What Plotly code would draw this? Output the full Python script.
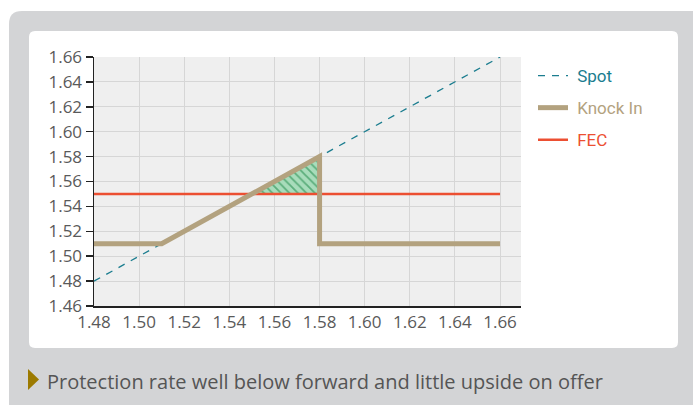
import plotly.graph_objects as go

# ---- data ----
spot_x = [1.48, 1.66]
spot_y = [1.48, 1.66]
knock_x = [1.48, 1.51, 1.58, 1.58, 1.66]
knock_y = [1.51, 1.51, 1.58, 1.51, 1.51]
fec_x = [1.48, 1.66]
fec_y = [1.55, 1.55]
gain_x = [1.55, 1.58, 1.58, 1.55]
gain_y = [1.55, 1.58, 1.55, 1.55]
tick_vals = [1.48, 1.50, 1.52, 1.54, 1.56, 1.58, 1.60, 1.62, 1.64, 1.66]
tick_text = ["1.48", "1.50", "1.52", "1.54", "1.56", "1.58", "1.60", "1.62", "1.64", "1.66"]
y_tick_vals = [1.46, 1.48, 1.50, 1.52, 1.54, 1.56, 1.58, 1.60, 1.62, 1.64, 1.66]
y_tick_text = ["1.46", "1.48", "1.50", "1.52", "1.54", "1.56", "1.58", "1.60", "1.62", "1.64", "1.66"]
caption = "Protection rate well below forward and little upside on offer"

SPOT_C, KNOCK_C, FEC_C = "#1b7d8f", "#b3a27f", "#ec4f32"

W, H = 693, 405
L, R, T, B = 94, 521, 57, 306  # plot area in px


def X(px):
    return (px - L) / (R - L)


def Y(py):
    return (B - py) / (B - T)


def rrect(x0, y0, x1, y1, r):
    pts = [
        ("M", [(x0 + r, y0)]),
        ("L", [(x1 - r, y0)]),
        ("Q", [(x1, y0), (x1, y0 + r)]),
        ("L", [(x1, y1 - r)]),
        ("Q", [(x1, y1), (x1 - r, y1)]),
        ("L", [(x0 + r, y1)]),
        ("Q", [(x0, y1), (x0, y1 - r)]),
        ("L", [(x0, y0 + r)]),
        ("Q", [(x0, y0), (x0 + r, y0)]),
    ]
    s = ""
    for cmd, ps in pts:
        s += cmd + " ".join(f"{X(a):.5f},{Y(b):.5f}" for a, b in ps) + " "
    return s + "Z"


fig = go.Figure()

fig.add_trace(go.Scatter(
    x=gain_x, y=gain_y, mode="lines", fill="toself",
    line=dict(width=0, color="rgba(0,0,0,0)"),
    fillcolor="#a8dcbb",
    fillpattern=dict(shape="\\", fgcolor="#0f7f3c", bgcolor="#a8dcbb", size=6, solidity=0.3),
    showlegend=False, hoverinfo="skip",
))
fig.add_trace(go.Scatter(
    x=spot_x, y=spot_y, mode="lines",
    name=f"<span style='color:{SPOT_C}'>&nbsp;Spot</span>",
    line=dict(color=SPOT_C, width=1.3, dash="7px,7px"),
    legendrank=1, legendgroup="a",
))
fig.add_trace(go.Scatter(
    x=fec_x, y=fec_y, mode="lines",
    name=f"<span style='color:{FEC_C}'>&nbsp;FEC</span>",
    line=dict(color=FEC_C, width=2.5),
    legendrank=3, legendgroup="c",
))
fig.add_trace(go.Scatter(
    x=knock_x, y=knock_y, mode="lines",
    name=f"<span style='color:{KNOCK_C}'>&nbsp;Knock In</span>",
    line=dict(color=KNOCK_C, width=5),
    legendrank=2, legendgroup="b",
))

shapes = [
    dict(type="path", xref="paper", yref="paper", layer="below",
         path=rrect(9, 11, 705, 416, 13), fillcolor="#d3d4d6", line=dict(width=0)),
    dict(type="path", xref="paper", yref="paper", layer="below",
         path=rrect(29, 31, 678, 348, 6), fillcolor="#ffffff", line=dict(width=0)),
    dict(type="rect", xref="paper", yref="paper", layer="below",
         x0=0, x1=1, y0=0, y1=1, fillcolor="#efefef", line=dict(width=0)),
    dict(type="path", xref="paper", yref="paper",
         path=f"M{X(28):.5f},{Y(369):.5f} L{X(39):.5f},{Y(379.5):.5f} L{X(28):.5f},{Y(390):.5f} Z",
         fillcolor="#9c7a00", line=dict(width=0)),
]

fig.update_layout(
    width=W, height=H,
    margin=dict(l=L, r=W - R, t=T, b=H - B),
    paper_bgcolor="#ffffff",
    plot_bgcolor="rgba(0,0,0,0)",
    shapes=shapes,
    hovermode=False,
    font=dict(family="Open Sans, Arial, sans-serif", color="#5a5a5a", size=17),
    legend=dict(
        x=X(533), y=Y(58), xanchor="left", yanchor="top",
        bgcolor="rgba(0,0,0,0)",
        font=dict(family="Roboto, Arial, sans-serif", size=17),
        traceorder="grouped", tracegroupgap=7, itemwidth=30,
    ),
    annotations=[dict(
        xref="paper", yref="paper", x=X(45), y=Y(381), xanchor="left", yanchor="middle",
        text=caption, showarrow=False,
        font=dict(family="Open Sans, Arial, sans-serif", size=20, color="#555555"),
    )],
)

fig.update_xaxes(
    range=[1.48, 1.6693], tickvals=tick_vals, ticktext=tick_text,
    showgrid=True, gridcolor="#d6d6d6", gridwidth=1,
    showline=True, linecolor="#222222", linewidth=1.5,
    ticks="", zeroline=False, fixedrange=True,
)
fig.update_yaxes(
    range=[1.46, 1.66], tickvals=y_tick_vals, ticktext=y_tick_text,
    showgrid=True, gridcolor="#d6d6d6", gridwidth=1,
    showline=True, linecolor="#222222", linewidth=1.5,
    ticks="outside", ticklen=7, tickcolor="#222222", tickwidth=1.5,
    zeroline=False, fixedrange=True,
)

fig.write_html("out.html", config={"displayModeBar": False, "staticPlot": True},
               post_script="document.body.style.margin='0';")
